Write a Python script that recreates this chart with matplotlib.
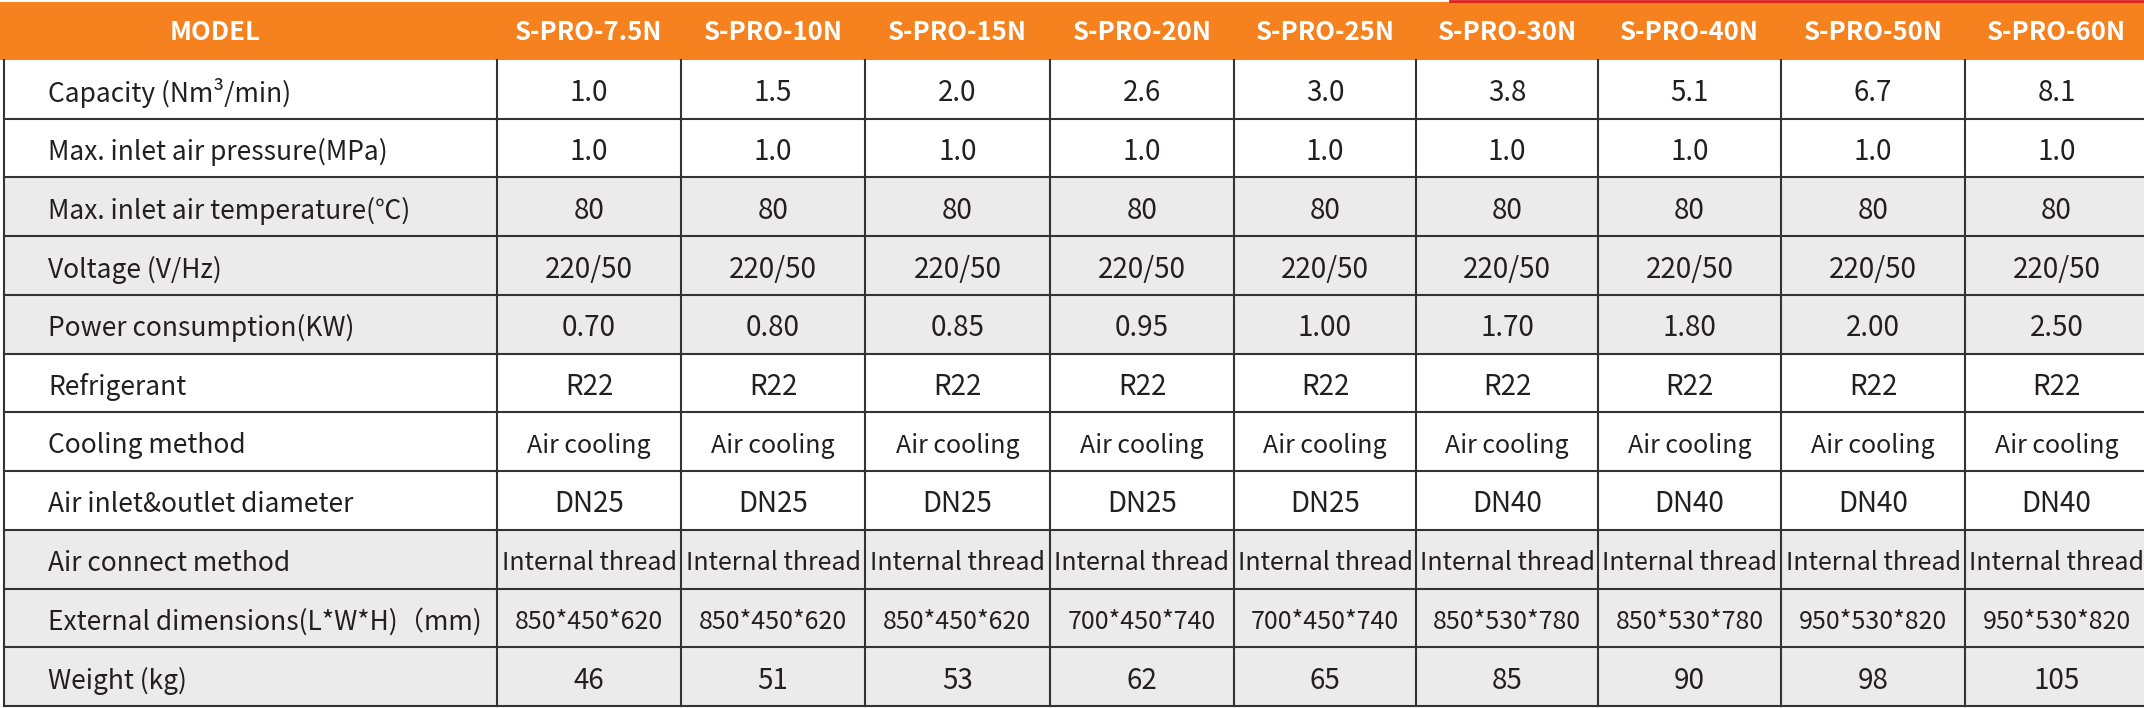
import matplotlib
matplotlib.use("Agg")
import matplotlib.pyplot as plt
from matplotlib.patches import Rectangle

models = ["S-PRO-7.5N", "S-PRO-10N", "S-PRO-15N", "S-PRO-20N", "S-PRO-25N",
          "S-PRO-30N", "S-PRO-40N", "S-PRO-50N", "S-PRO-60N"]
row_labels = ["Capacity (Nm³/min)", "Max. inlet air pressure(MPa)",
              "Max. inlet air temperature(℃)", "Voltage (V/Hz)",
              "Power consumption(KW)", "Refrigerant", "Cooling method",
              "Air inlet&outlet diameter", "Air connect method",
              "External dimensions(L*W*H)（mm)", "Weight (kg)"]
capacity = ["1.0", "1.5", "2.0", "2.6", "3.0", "3.8", "5.1", "6.7", "8.1"]
pressure = ["1.0"] * 9
temperature = ["80"] * 9
voltage = ["220/50"] * 9
power = ["0.70", "0.80", "0.85", "0.95", "1.00", "1.70", "1.80", "2.00", "2.50"]
refrigerant = ["R22"] * 9
cooling = ["Air cooling"] * 9
diameter = ["DN25"] * 5 + ["DN40"] * 4
connect = ["Internal thread"] * 9
dimensions = ["850*450*620", "850*450*620", "850*450*620", "700*450*740", "700*450*740",
              "850*530*780", "850*530*780", "950*530*820", "950*530*820"]
weight = ["46", "51", "53", "62", "65", "85", "90", "98", "105"]
rows = [capacity, pressure, temperature, voltage, power, refrigerant, cooling,
        diameter, connect, dimensions, weight]
gray_rows = {2, 3, 4, 8, 9, 10}

W, H = 2144, 708
fig = plt.figure(figsize=(W / 100, H / 100), dpi=100)
ax = fig.add_axes([0, 0, 1, 1])
ax.set_xlim(0, W); ax.set_ylim(H, 0); ax.axis("off")

fam = ["Liberation Sans Narrow", "Noto Sans CJK SC", "DejaVu Sans"]
col_x = [4, 497, 681, 865, 1050, 1234, 1416, 1598, 1781, 1965, 2148]
hdr_top, hdr_bot = 2, 60
row_h = (706 - hdr_bot) / len(rows)

ax.add_patch(Rectangle((0, hdr_top), W, hdr_bot - hdr_top, color="#F5821F", lw=0))
ax.plot([1450, W], [1, 1], color="#E02020", lw=2)
ax.text(215, (hdr_top + hdr_bot) / 2 + 2, "MODEL", ha="center", va="center",
        color="white", fontsize=18.5, fontweight="bold", family=fam)
for j, m in enumerate(models):
    ax.text((col_x[j + 1] + col_x[j + 2]) / 2, (hdr_top + hdr_bot) / 2 + 2, m,
            ha="center", va="center", color="white", fontsize=18.5, fontweight="bold", family=fam)

for i, (lab, vals) in enumerate(zip(row_labels, rows)):
    y0 = hdr_bot + i * row_h
    if i in gray_rows:
        ax.add_patch(Rectangle((col_x[0], y0), W - col_x[0], row_h, color="#EBEBEB", lw=0))
    yc = y0 + row_h / 2 + 4
    ax.text(48, yc, lab, ha="left", va="center", fontsize=19, color="#231F20", family=fam)
    for j, v in enumerate(vals):
        fs = 18 if len(v) > 10 else 20
        ax.text((col_x[j + 1] + col_x[j + 2]) / 2, yc, v, ha="center", va="center",
                fontsize=fs, color="#231F20", family=fam)
    ax.plot([col_x[0], W], [y0 + row_h, y0 + row_h], color="#333333", lw=1.5)

for x in col_x[:-1]:
    ax.plot([x, x], [hdr_bot, 706], color="#333333", lw=1.5)

fig.savefig("out.png", dpi=100)
